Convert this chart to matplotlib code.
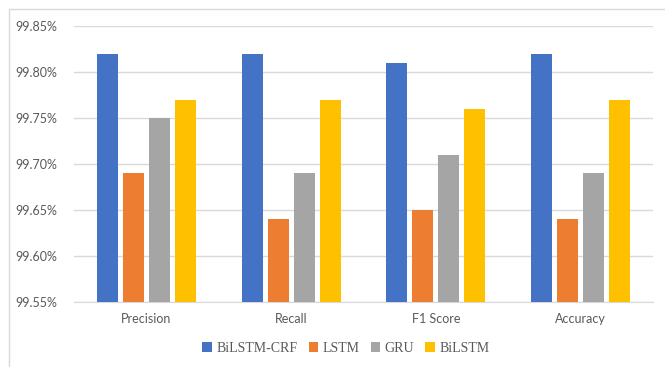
import numpy as np
import matplotlib
matplotlib.use("Agg")
import matplotlib.pyplot as plt
from matplotlib.patches import Rectangle
from matplotlib.ticker import FuncFormatter

categories = ["Precision", "Recall", "F1 Score", "Accuracy"]
series_names = ["BiLSTM-CRF", "LSTM", "GRU", "BiLSTM"]
bilstm_crf = [99.82, 99.82, 99.81, 99.82]
lstm = [99.69, 99.64, 99.65, 99.64]
gru = [99.75, 99.69, 99.71, 99.69]
bilstm = [99.77, 99.77, 99.76, 99.77]
colors = ["#4472C4", "#ED7D31", "#A5A5A5", "#FFC000"]


def generate_chart():
    fig = plt.figure(figsize=(6.65, 3.67), dpi=100)
    fig.patches.append(Rectangle((0.014, -0.1), 1.2, 1.075, transform=fig.transFigure,
                                 fill=False, edgecolor="#D9D9D9", linewidth=1.0))
    ax = fig.add_axes([0.1113, 0.1771, 0.8707, 0.7521])

    x = np.arange(len(categories))
    width = 0.145
    step = 0.18
    all_series = [bilstm_crf, lstm, gru, bilstm]
    for i, (name, vals) in enumerate(zip(series_names, all_series)):
        offset = (i - 1.5) * step
        ax.bar(x + offset, vals, width=width, color=colors[i], label=name,
               zorder=3)

    ax.set_ylim(99.55, 99.85)
    ax.set_xlim(-0.5, len(categories) - 0.5)
    ax.set_yticks(np.arange(99.55, 99.851, 0.05))
    ax.yaxis.set_major_formatter(FuncFormatter(lambda v, p: f"{v:.2f}%"))
    ax.set_xticks(x)
    ax.set_xticklabels(categories)
    ax.grid(axis="y", color="#D9D9D9", linewidth=1.0, zorder=0)
    for s in ["top", "right", "left"]:
        ax.spines[s].set_visible(False)
    ax.spines["bottom"].set_color("#D9D9D9")
    ax.tick_params(axis="both", length=0, colors="#595959", labelsize=9)
    ax.tick_params(axis="x", pad=8)
    ax.tick_params(axis="y", pad=12)
    for lbl in ax.get_xticklabels() + ax.get_yticklabels():
        lbl.set_fontfamily("Lato")

    fig.legend(loc="center", bbox_to_anchor=(0.52, 0.05), ncol=4, frameon=False,
               prop={"family": "Liberation Serif", "size": 10},
               handlelength=0.7, handleheight=0.7, handletextpad=0.3,
               columnspacing=0.8, labelcolor="#595959")

    fig.savefig("out.png", dpi=100)
    plt.close(fig)


if __name__ == "__main__":
    generate_chart()
